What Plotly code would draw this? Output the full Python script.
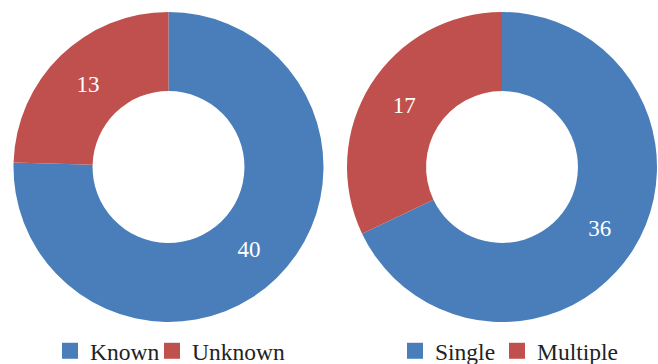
import plotly.graph_objects as go

left_labels = ["Known", "Unknown"]
left_values = [40, 13]
right_labels = ["Single", "Multiple"]
right_values = [36, 17]
colors = ["#4A7EBB", "#C0504D"]

W, H = 658, 364
FONT = "Liberation Serif"

fig = go.Figure()

def pie(labels, values, domx):
    return go.Pie(
        labels=labels, values=values, hole=0.49, sort=False,
        direction="clockwise", rotation=0,
        marker=dict(colors=colors, line=dict(width=0)),
        textinfo="value", textposition="inside",
        insidetextorientation="horizontal",
        textfont=dict(family=FONT, size=23, color="white"),
        domain=dict(x=domx, y=[42 / H, 352 / H]),
        showlegend=False, hoverinfo="none",
    )

fig.add_trace(pie(left_labels, left_values, [13.5 / W, 323.5 / W]))
fig.add_trace(pie(right_labels, right_values, [347 / W, 657 / W]))

# one legend box per entry so the spacing can follow the reference
legend_x_px = [50, 152, 395, 497]
legend_names = ["legend", "legend2", "legend3", "legend4"]
entries = list(zip(left_labels, colors)) + list(zip(right_labels, colors))

legend_common = dict(
    orientation="h", xanchor="left", yanchor="middle",
    xref="container", yref="container",
    font=dict(family=FONT, size=23.5, color="#222222"),
    bgcolor="rgba(0,0,0,0)", itemclick=False, itemdoubleclick=False,
    tracegroupgap=0, itemwidth=30,
)

legend_layout = {}
for (lab, col), leg, xpx in zip(entries, legend_names, legend_x_px):
    fig.add_trace(go.Scatter(
        x=[None], y=[None], mode="markers", name=lab,
        marker=dict(symbol="square", size=16, color=col),
        legend=leg, showlegend=True, hoverinfo="none",
    ))
    legend_layout[leg] = dict(x=xpx / W, y=(H - 351) / H, **legend_common)

fig.update_layout(
    width=W, height=H,
    margin=dict(l=0, r=0, t=0, b=0, autoexpand=False),
    font=dict(family=FONT),
    paper_bgcolor="white", plot_bgcolor="white",
    xaxis=dict(visible=False), yaxis=dict(visible=False),
    **legend_layout,
)

fig.write_html("out.html")
